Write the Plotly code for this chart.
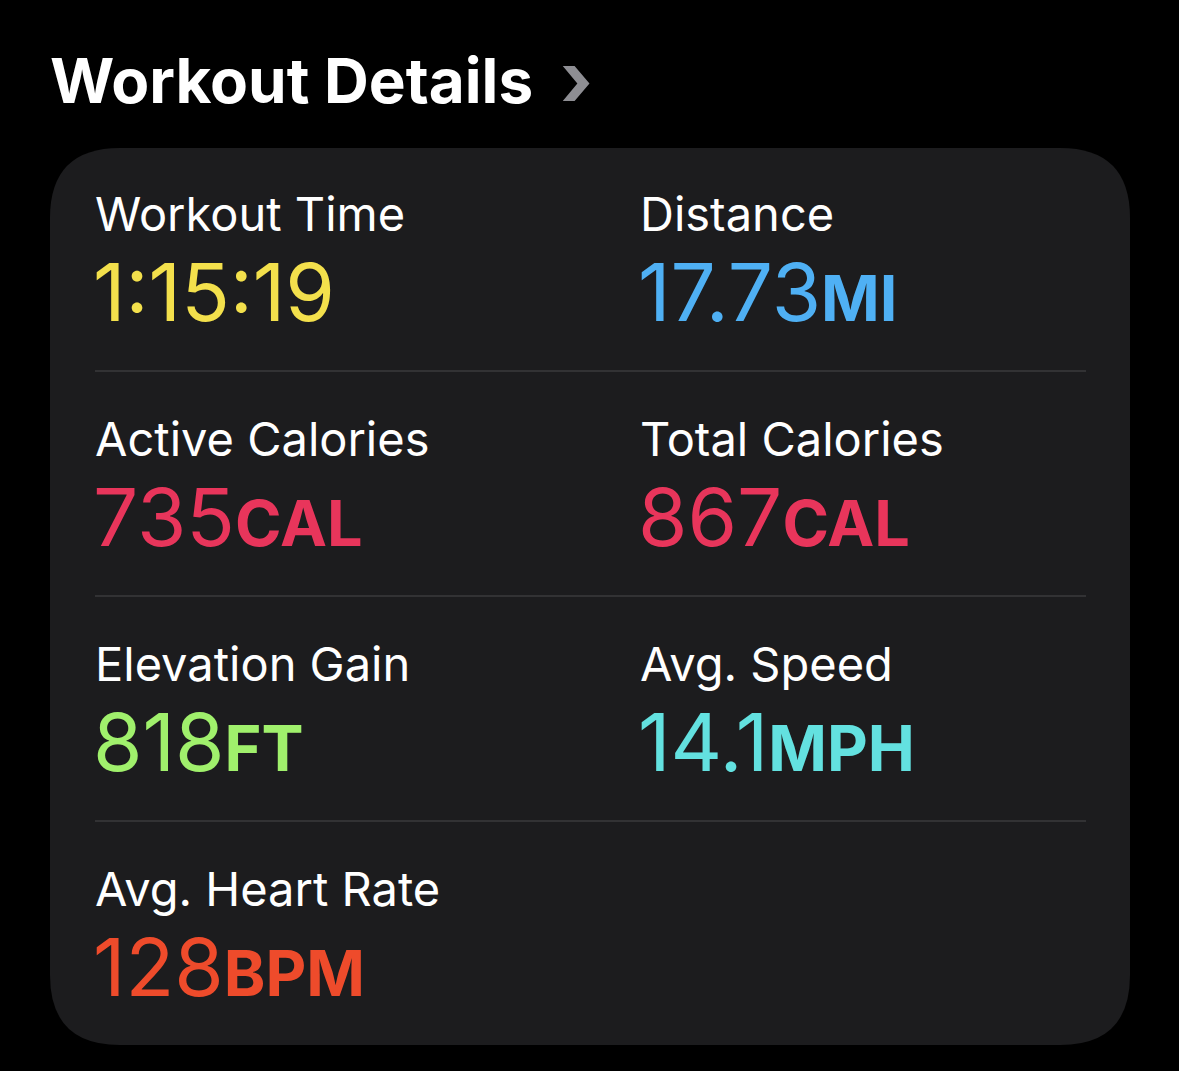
import plotly.graph_objects as go

# metric tiles, left to right, top to bottom
labels = ["Workout Time", "Distance", "Active Calories", "Total Calories",
          "Elevation Gain", "Avg. Speed", "Avg. Heart Rate"]
values = ["1:15:19", "17.73", "735", "867", "818", "14.1", "128"]
units = ["", "MI", "CAL", "CAL", "FT", "MPH", "BPM"]
colors = ["#f3e04c", "#4fb0f4", "#e8355b", "#e8355b", "#a0f06c", "#63e1e0", "#ee4b2b"]

W, H = 1179, 1071
fig = go.Figure()

# card with rounded corners
x0, x1, y0, y1, r = 50, 1130, 148, 1045, 70
path = (f"M{x0+r},{y0} L{x1-r},{y0} Q{x1},{y0} {x1},{y0+r} L{x1},{y1-r} "
        f"Q{x1},{y1} {x1-r},{y1} L{x0+r},{y1} Q{x0},{y1} {x0},{y1-r} "
        f"L{x0},{y0+r} Q{x0},{y0} {x0+r},{y0} Z")
fig.add_shape(type="path", path=path, xref="x", yref="y",
              fillcolor="#1c1c1e", line_width=0, layer="below")

for ys in [371, 596, 821]:
    fig.add_shape(type="line", x0=95, x1=1086, y0=ys, y1=ys,
                  line=dict(color="#3a3a3c", width=1.5))

fig.add_annotation(x=48, y=80, text="<b>Workout Details</b>", showarrow=False,
                   xanchor="left", yanchor="middle",
                   font=dict(size=62, color="white", family="Inter"))
fig.add_annotation(x=558, y=78, text="<b>›</b>", showarrow=False,
                   xanchor="left", yanchor="middle",
                   font=dict(size=76, color="#8e8e93", family="Inter"))

for i, (lab, val, unit, col) in enumerate(zip(labels, values, units, colors)):
    x = 95 if i % 2 == 0 else 640
    row = i // 2
    ly = 213 + row * 225
    fig.add_annotation(x=x - 2, y=ly, text=lab, showarrow=False,
                       xanchor="left", yanchor="middle",
                       font=dict(size=47, color="white", family="Inter"))
    txt = f"<span style='font-size:80px'>{val}</span>"
    if unit:
        txt += f"<span style='font-size:63px'><b>{unit}</b></span>"
    fig.add_annotation(x=x - 4, y=ly + 78, text=txt, showarrow=False,
                       xanchor="left", yanchor="middle",
                       font=dict(size=80, color=col, family="Inter"))

fig.update_xaxes(range=[0, W], visible=False, fixedrange=True)
fig.update_yaxes(range=[H, 0], visible=False, fixedrange=True)
fig.update_layout(width=W, height=H, margin=dict(l=0, r=0, t=0, b=0),
                  paper_bgcolor="black", plot_bgcolor="black", showlegend=False)

fig.write_html("out.html", config={"displayModeBar": False},
               post_script="document.body.style.margin='0';"
                           "document.body.style.background='black';")
